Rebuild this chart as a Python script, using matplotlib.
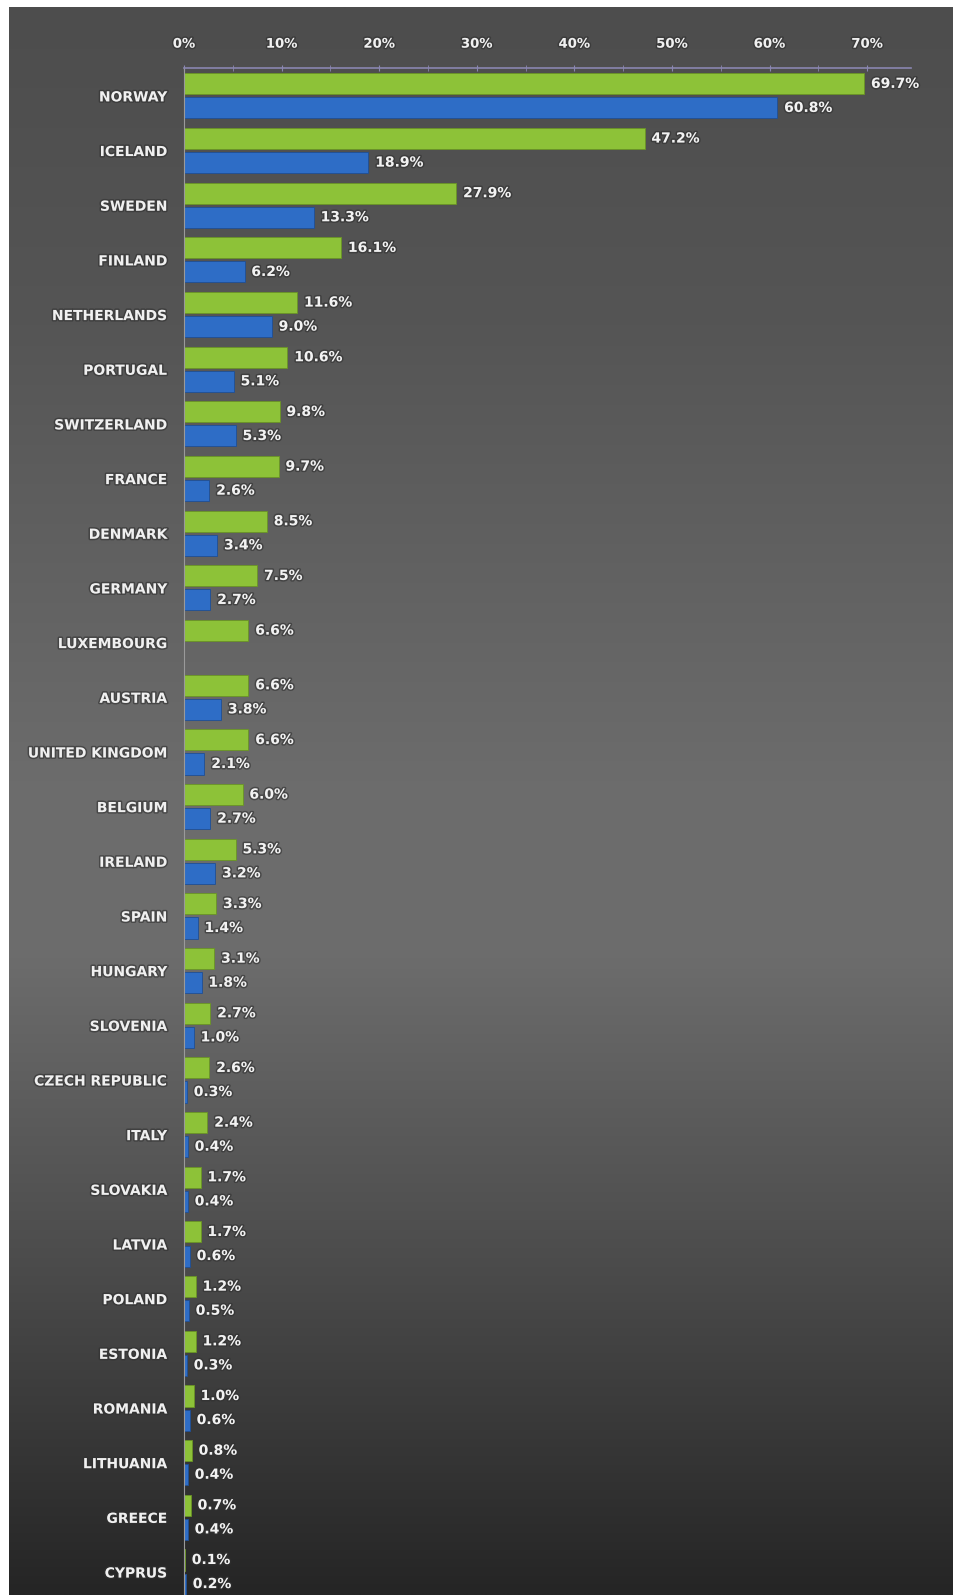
import numpy as np
import matplotlib.pyplot as plt
import matplotlib.patheffects as pe
from matplotlib.ticker import MultipleLocator, FuncFormatter

countries = ['NORWAY', 'ICELAND', 'SWEDEN', 'FINLAND', 'NETHERLANDS', 'PORTUGAL',
             'SWITZERLAND', 'FRANCE', 'DENMARK', 'GERMANY', 'LUXEMBOURG', 'AUSTRIA',
             'UNITED KINGDOM', 'BELGIUM', 'IRELAND', 'SPAIN', 'HUNGARY', 'SLOVENIA',
             'CZECH REPUBLIC', 'ITALY', 'SLOVAKIA', 'LATVIA', 'POLAND', 'ESTONIA',
             'ROMANIA', 'LITHUANIA', 'GREECE', 'CYPRUS']
green_vals = [69.7, 47.2, 27.9, 16.1, 11.6, 10.6, 9.8, 9.7, 8.5, 7.5, 6.6, 6.6,
              6.6, 6.0, 5.3, 3.3, 3.1, 2.7, 2.6, 2.4, 1.7, 1.7, 1.2, 1.2,
              1.0, 0.8, 0.7, 0.1]
blue_vals = [60.8, 18.9, 13.3, 6.2, 9.0, 5.1, 5.3, 2.6, 3.4, 2.7, None, 3.8,
             2.1, 2.7, 3.2, 1.4, 1.8, 1.0, 0.3, 0.4, 0.4, 0.6, 0.5, 0.3,
             0.6, 0.4, 0.4, 0.2]

W, H = 954, 1595
fig = plt.figure(figsize=(W / 100, H / 100), dpi=100, facecolor='white')

# grey vertical gradient behind everything (white strip on top and left)
bg = fig.add_axes([9 / W, 0, 1 - 9 / W, 1 - 7 / H])
stops_y = [0.0, 0.2, 0.5, 0.6, 0.8, 1.0]
stops_c = [0x4d, 0x55, 0x6d, 0x6c, 0x4a, 0x25]
t = np.linspace(0, 1, 400)
g = np.interp(t, stops_y, stops_c) / 255.0
img = np.dstack([g[:, None]] * 3).repeat(2, axis=1)
bg.imshow(img, aspect='auto', extent=[0, 1, 1, 0], interpolation='bilinear')
bg.set_xlim(0, 1)
bg.set_ylim(1, 0)
bg.axis('off')

ax = fig.add_axes([184 / W, 0, (911 - 184) / W, 1 - 68 / H])
ax.set_facecolor('none')

y = np.arange(len(countries))
h = 0.385
off = 0.22
green = '#8dc238'
blue = '#2e6dc6'

ax.barh(y - off, green_vals, height=h, color=green, edgecolor='#6a9425', linewidth=0.6)
bv = [np.nan if v is None else v for v in blue_vals]
ax.barh(y + off, bv, height=h, color=blue, edgecolor='#1f4f95', linewidth=0.6)

fx = [pe.withStroke(linewidth=2.2, foreground='#303030', alpha=0.6)]
for i in range(len(countries)):
    ax.text(green_vals[i] + 0.7, y[i] - off, f'{green_vals[i]:.1f}%', va='center', ha='left',
            color='#f2f2f2', fontsize=10, fontweight='bold', path_effects=fx)
    if blue_vals[i] is not None:
        ax.text(blue_vals[i] + 0.7, y[i] + off, f'{blue_vals[i]:.1f}%', va='center', ha='left',
                color='#f2f2f2', fontsize=10, fontweight='bold', path_effects=fx)

ax.set_xlim(0, 74.5)
ax.set_ylim(27.42, -0.51)
ax.xaxis.tick_top()
ax.xaxis.set_major_locator(MultipleLocator(10))
ax.xaxis.set_minor_locator(MultipleLocator(5))
ax.xaxis.set_major_formatter(FuncFormatter(lambda v, p: f'{v:.0f}%' if v <= 70 else ''))
ax.tick_params(axis='x', which='both', direction='inout', length=5, color='#8a86b0',
               labelcolor='#f0f0f0', labelsize=9.5, pad=10)
for lab in ax.get_xticklabels():
    lab.set_fontweight('bold')
    lab.set_path_effects(fx)

ax.set_yticks(y)
ax.set_yticklabels(countries, fontsize=10, fontweight='bold', color='#f0f0f0')
for lab in ax.get_yticklabels():
    lab.set_path_effects(fx)
ax.tick_params(axis='y', length=0, pad=12)

for s in ['right', 'bottom']:
    ax.spines[s].set_visible(False)
ax.spines['top'].set_color('#8a86b0')
ax.spines['top'].set_linewidth(1.2)
ax.spines['left'].set_color('#9a9a9a')
ax.spines['left'].set_linewidth(0.8)

fig.savefig('out.png', dpi=100, facecolor='white')
